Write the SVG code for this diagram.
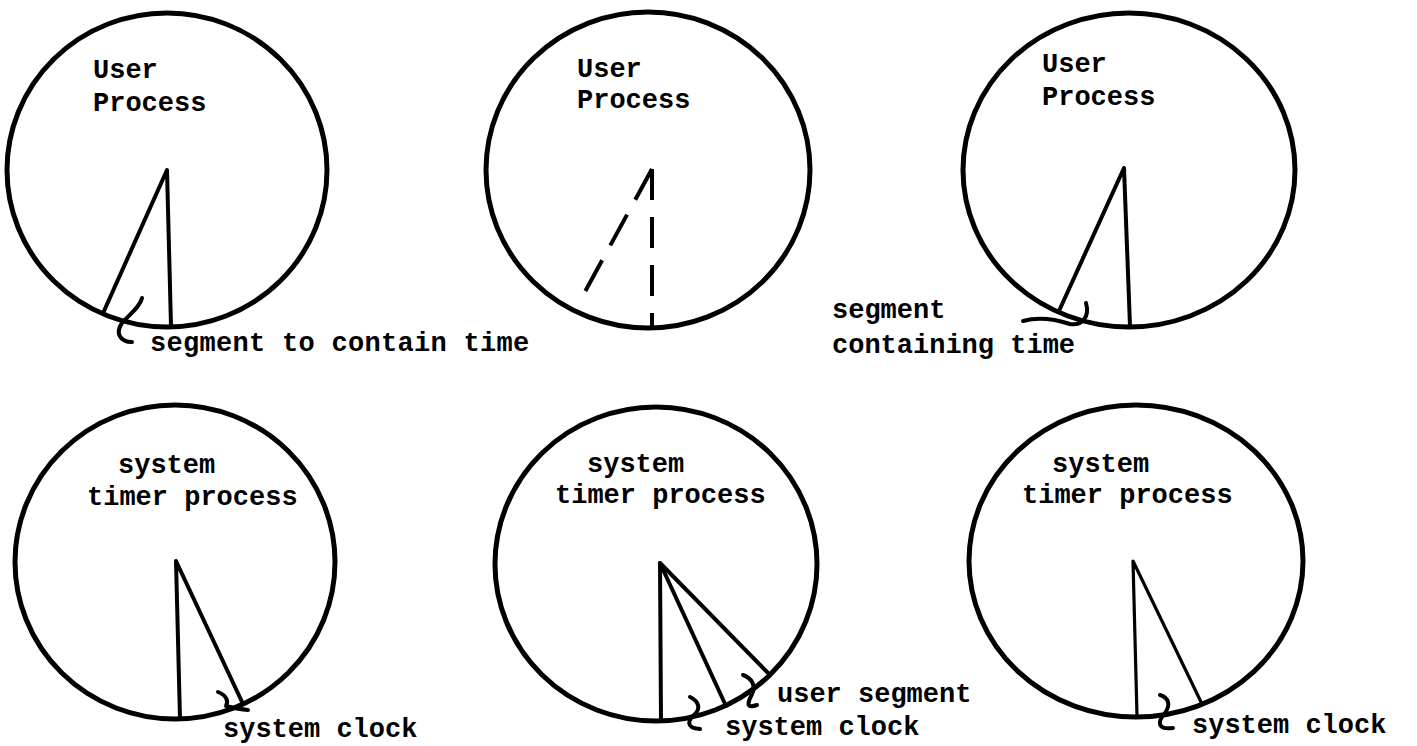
<svg xmlns="http://www.w3.org/2000/svg" width="1417" height="746" viewBox="0 0 1417 746">
<style>
.bg{fill:#ffffff}
.circ{fill:none;stroke:#000;stroke-width:5;stroke-linejoin:round;stroke-linecap:round}
.pie{fill:none;stroke:#000;stroke-width:4;stroke-linejoin:round;stroke-linecap:round}
.thin{stroke-width:3.2}
.dash{stroke-dasharray:35 17;stroke-linecap:butt}
.brace{fill:none;stroke:#000;stroke-width:4;stroke-linecap:round;stroke-linejoin:round}
text{font-family:"Liberation Mono","Courier New",monospace;font-weight:bold;font-size:27px;fill:#000}
</style>
<rect class="bg" x="0" y="0" width="1417" height="746"/>

<g id="user-process-1">
<ellipse class="circ" cx="167" cy="170" rx="160" ry="157"/>
<path class="pie" d="M104,311 L167,170 L171,326"/>
<text x="93" y="78">User</text>
<text x="93" y="111">Process</text>
</g>

<g id="user-process-2">
<ellipse class="circ" cx="648" cy="170" rx="162" ry="158"/>
<path class="pie dash" d="M652,169 L581,299"/>
<path class="pie dash" d="M652,169 L652,328" style="stroke-dasharray:31 17"/>
<text x="577" y="77">User</text>
<text x="577" y="108">Process</text>
</g>

<g id="user-process-3">
<ellipse class="circ" cx="1129" cy="170" rx="166" ry="157"/>
<path class="pie" d="M1059,311 L1124,168 L1130,326"/>
<text x="1042" y="72">User</text>
<text x="1042" y="105">Process</text>
</g>

<g id="system-timer-1">
<ellipse class="circ" cx="175" cy="562" rx="160" ry="157"/>
<path class="pie" d="M180,719 L176,561 L243,704"/>
<text x="118" y="473">system</text>
<text x="87" y="505">timer process</text>
</g>

<g id="system-timer-2">
<ellipse class="circ" cx="656" cy="564" rx="161" ry="157"/>
<path class="pie" d="M661,721 L660,563 L726,706"/>
<path class="pie" d="M660,563 L770,675"/>
<text x="587" y="472">system</text>
<text x="555" y="503">timer process</text>
</g>

<g id="system-timer-3">
<ellipse class="circ" cx="1136" cy="561" rx="167" ry="156"/>
<path class="pie thin" d="M1137,716 L1133,561 L1202,704"/>
<text x="1052" y="472">system</text>
<text x="1022" y="503">timer process</text>
</g>

<g id="connectors">
<path class="brace" d="M142,298 C140,307 130,314 122,323 C115,333 120,342 132,342"/>
<path class="brace" d="M1023,321 C1040,316 1058,320 1070,324 C1082,326 1090,317 1086,303"/>
<path class="brace" d="M218,692 C226,695 229,701 226,706 C233,708 240,709 248,710"/>
<path class="brace" d="M690,697 C700,702 700,709 695,714 C688,720 685,728 700,729"/>
<path class="brace" d="M743,675 C752,678 756,686 752,694 C748,702 745,709 757,705"/>
<path class="brace" d="M1160,695 C1170,698 1170,706 1165,713 C1158,721 1156,730 1173,728"/>
</g>

<g id="labels">
<text x="150" y="351" style="letter-spacing:0.3px">segment to contain time</text>
<text x="832" y="318">segment</text>
<text x="832" y="353">containing time</text>
<text x="223" y="737">system clock</text>
<text x="777" y="702">user segment</text>
<text x="725" y="735">system clock</text>
<text x="1192" y="733">system clock</text>
</g>
</svg>
